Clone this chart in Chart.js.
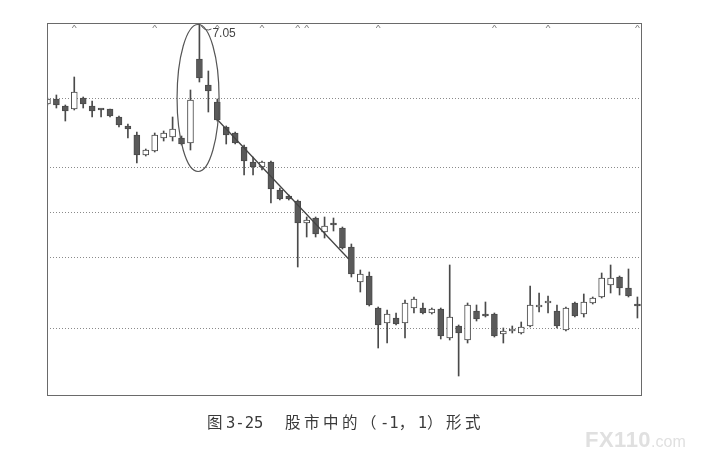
<!DOCTYPE html>
<html>
<head>
<meta charset="utf-8">
<script src="https://cdn.jsdelivr.net/npm/chart.js@4.4.0/dist/chart.umd.min.js"></script>
<style>
  html, body { margin: 0; padding: 0; background: #fff; }
  #wrap { position: relative; width: 705px; height: 459px; overflow: hidden; }
  #chart { position: absolute; left: 0; top: 0; }
  .cap { position: absolute; top: 410px; font-size: 15.5px; line-height: 22px; color: #3a3a3a; white-space: pre; }
  .cap .h { font-family: "Noto Sans CJK SC", sans-serif; letter-spacing: 3.5px; }
  .cap .a { font-family: "DejaVu Sans Mono", monospace; letter-spacing: 0; }
  #cap1 { left: 207px; }
  #cap2 { left: 285px; }
  #mark { position: absolute; left: 585px; top: 429px; line-height: 22px; color: #e0e0e0; font-family: "Liberation Sans", sans-serif; white-space: pre; }
  #mark b { font-size: 22px; font-weight: bold; letter-spacing: 0.5px; }
  #mark span { font-size: 16px; }
</style>
</head>
<body>
<div id="wrap">
  <canvas id="chart" width="705" height="459"></canvas>
  <div class="cap" id="cap1"><span class="h">图</span><span class="a">3-25</span></div>
  <div class="cap" id="cap2"><span class="h">股市中的（</span><span class="a">-1</span><span class="h">，</span><span class="a">1</span><span class="h">）形式</span></div>
  <div id="mark"><b>FX110</b><span>.com</span></div>
</div>
<script>
// daily candles (price units)
const opens  = [6.25, 6.30, 6.23, 6.20, 6.31, 6.23, 6.20, 6.20, 6.12, 6.03,
                5.94, 5.74, 5.78, 5.91, 5.92, 5.91, 5.86, 6.70, 6.44, 6.27,
                6.02, 5.96, 5.82, 5.67, 5.62, 5.67, 5.39, 5.33, 5.28, 5.06,
                5.11, 4.97, 5.06, 5.01, 4.82, 4.47, 4.53, 4.21, 4.06, 4.11,
                4.06, 4.21, 4.21, 4.16, 4.20, 3.91, 4.03, 3.89, 4.18, 4.15,
                4.15, 3.95, 3.98, 3.96, 4.03, 4.22, 4.26, 4.18, 3.99, 4.26,
                4.15, 4.26, 4.32, 4.44, 4.52, 4.41, 4.24];
const highs  = [6.31, 6.34, 6.24, 6.52, 6.32, 6.28, 6.20, 6.20, 6.13, 6.05,
                5.97, 5.80, 5.96, 5.98, 6.12, 5.93, 6.39, 7.05, 6.58, 6.30,
                6.03, 5.97, 5.84, 5.72, 5.68, 5.68, 5.41, 5.34, 5.29, 5.12,
                5.12, 5.12, 5.11, 5.02, 4.85, 4.59, 4.57, 4.22, 4.19, 4.16,
                4.29, 4.32, 4.26, 4.21, 4.21, 4.64, 4.04, 4.26, 4.24, 4.27,
                4.16, 4.01, 4.03, 4.07, 4.43, 4.36, 4.33, 4.24, 4.22, 4.27,
                4.35, 4.32, 4.56, 4.64, 4.53, 4.60, 4.32];
const lows   = [6.24, 6.21, 6.08, 6.19, 6.21, 6.12, 6.12, 6.12, 6.02, 5.91,
                5.66, 5.73, 5.77, 5.88, 5.88, 5.84, 5.79, 6.47, 6.17, 6.08,
                5.85, 5.85, 5.54, 5.54, 5.59, 5.26, 5.29, 5.29, 4.62, 4.92,
                4.92, 4.91, 4.98, 4.80, 4.52, 4.37, 4.23, 3.81, 3.86, 4.04,
                3.91, 4.16, 4.15, 4.15, 3.90, 3.89, 3.53, 3.86, 4.08, 4.12,
                3.92, 3.86, 3.96, 3.95, 4.02, 4.17, 4.16, 4.01, 3.98, 4.12,
                4.12, 4.25, 4.31, 4.36, 4.34, 4.32, 4.11];
const closes = [6.30, 6.24, 6.18, 6.37, 6.25, 6.18, 6.19, 6.13, 6.04, 6.00,
                5.74, 5.79, 5.94, 5.96, 6.00, 5.85, 6.29, 6.51, 6.38, 6.09,
                5.94, 5.86, 5.68, 5.62, 5.67, 5.40, 5.30, 5.30, 5.06, 5.09,
                4.95, 5.03, 5.04, 4.81, 4.55, 4.55, 4.24, 4.04, 4.15, 4.05,
                4.26, 4.30, 4.16, 4.20, 3.93, 4.12, 3.96, 4.24, 4.10, 4.13,
                3.93, 3.98, 4.00, 4.02, 4.24, 4.24, 4.27, 4.03, 4.21, 4.13,
                4.27, 4.31, 4.51, 4.51, 4.41, 4.33, 4.23];

const gridLevels = [6.30, 5.61, 5.16, 4.71, 4.01];      // dotted price lines
const markIdx = [3, 12, 19, 24, 28, 29, 37, 50, 56, 66]; // small ^ marks on the top edge
const trendX = [19.05, 33.7];
const trendY = [6.09, 4.70];
const peakIdx = 17;
const ringX = 16.85, ringHalfW = 2.35, ringTop = 7.045, ringBottom = 5.575;

const ink = '#4a4a4a';

const decor = {
  id: 'decor',
  afterDraw(chart) {
    const { ctx, chartArea: a, scales: { x, y } } = chart;
    ctx.save();
    // frame
    ctx.strokeStyle = '#6a6a6a';
    ctx.lineWidth = 1;
    ctx.strokeRect(Math.round(a.left) + 0.5, Math.round(a.top) + 0.5,
                   Math.round(a.right - a.left), Math.round(a.bottom - a.top));
    // top marks
    ctx.strokeStyle = '#888';
    markIdx.forEach(i => {
      const px = x.getPixelForValue(i);
      ctx.beginPath();
      ctx.moveTo(px - 2, a.top + 5);
      ctx.lineTo(px, a.top + 2);
      ctx.lineTo(px + 2, a.top + 5);
      ctx.stroke();
    });
    // ellipse round the spike
    const cx = x.getPixelForValue(ringX);
    const rx = x.getPixelForValue(ringX + ringHalfW) - cx;
    const t = y.getPixelForValue(ringTop), b = y.getPixelForValue(ringBottom);
    ctx.strokeStyle = '#555';
    ctx.lineWidth = 1.2;
    ctx.beginPath();
    ctx.ellipse(cx, (t + b) / 2, rx, (b - t) / 2, 0, 0, Math.PI * 2);
    ctx.stroke();
    // peak label
    const px = x.getPixelForValue(peakIdx), py = y.getPixelForValue(highs[peakIdx]);
    ctx.lineWidth = 1;
    ctx.beginPath();
    ctx.moveTo(px + 2, py + 2);
    ctx.quadraticCurveTo(px + 6, py + 8, px + 12, py + 5);
    ctx.stroke();
    ctx.fillStyle = '#444';
    ctx.font = '12px "Liberation Sans", sans-serif';
    ctx.textBaseline = 'middle';
    ctx.fillText(highs[peakIdx].toFixed(2), px + 13, py + 10);
    ctx.restore();
  }
};

new Chart(document.getElementById('chart'), {
  type: 'bar',
  data: {
    datasets: [
      {
        type: 'line',
        data: trendX.map((v, i) => ({ x: v, y: trendY[i] })),
        borderColor: '#444',
        borderWidth: 1.3,
        pointRadius: 0,
        order: -1
      },
      {
        data: opens.map((o, i) => ({ x: i, y: [o, closes[i]] })),
        backgroundColor: opens.map((o, i) => closes[i] >= o ? '#ffffff' : '#5a5a5a'),
        borderColor: ink,
        borderWidth: 1,
        borderSkipped: false,
        barThickness: 6,
        minBarLength: 2,
        grouped: false,
        order: 0
      },
      {
        data: lows.map((l, i) => ({ x: i, y: [l, highs[i]] })),
        backgroundColor: ink,
        barThickness: 1,
        grouped: false,
        order: 1
      }
    ]
  },
  options: {
    responsive: false,
    animation: false,
    layout: { padding: { left: 47, top: 23, right: 64, bottom: 64 } },
    plugins: { legend: { display: false }, tooltip: { enabled: false } },
    scales: {
      x: {
        type: 'linear',
        min: -0.05,
        max: 66.4,
        offset: false,
        display: false
      },
      y: {
        min: 3.34,
        max: 7.06,
        afterBuildTicks: s => { s.ticks = gridLevels.map(v => ({ value: v })); },
        ticks: { display: false },
        grid: { color: '#8a8a8a', lineWidth: 1, drawTicks: false },
        border: { display: false, dash: [1, 2] }
      }
    }
  },
  plugins: [decor]
});
</script>
</body>
</html>
